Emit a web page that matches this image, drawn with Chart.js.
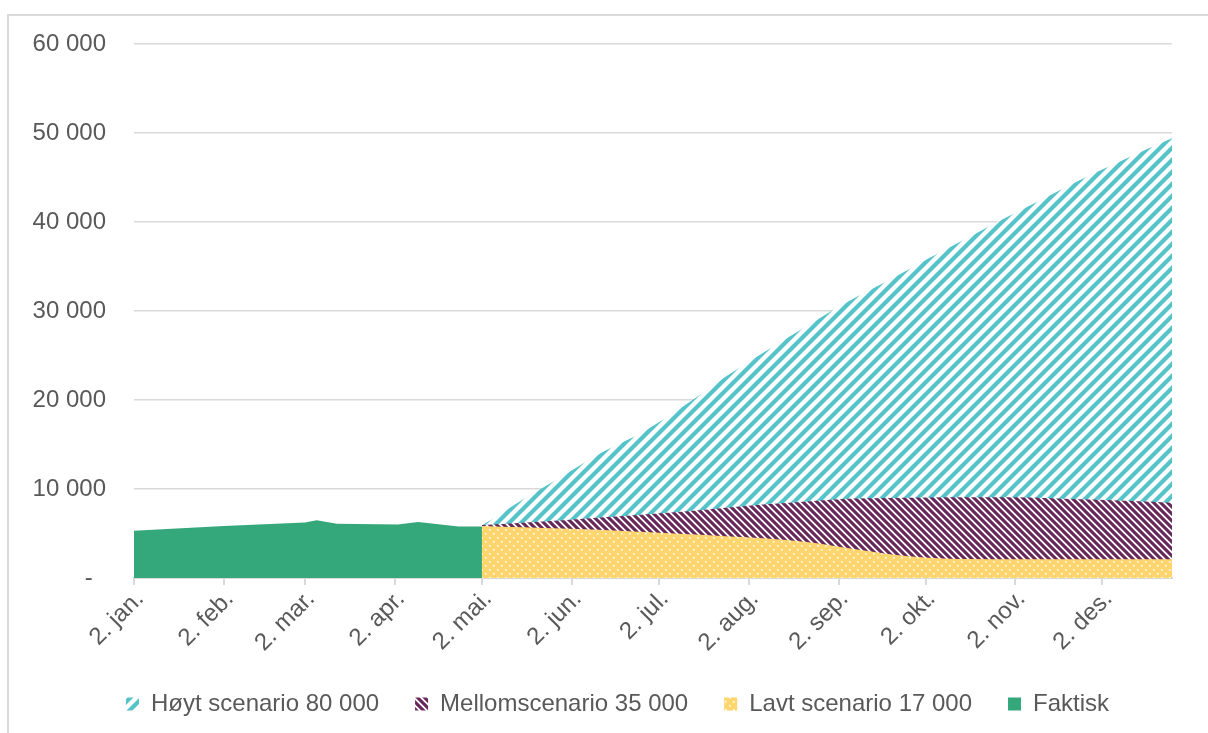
<!DOCTYPE html>
<html>
<head>
<meta charset="utf-8">
<script src="https://cdn.jsdelivr.net/npm/chart.js@4.4.1/dist/chart.umd.min.js"></script>
<style>
  html, body { margin: 0; padding: 0; background: #ffffff; overflow: hidden; }
  #frame { position: absolute; left: 7px; top: 14px; width: 1400px; height: 900px;
           border: 2px solid #d9d9d9; box-sizing: border-box; }
  #wrap { position: absolute; left: 0; top: 0; width: 1208px; height: 733px; }
</style>
</head>
<body>
<div id="frame"></div>
<div id="wrap"><canvas id="c" width="1208" height="733"></canvas></div>
<script>
// ---- Data (days counted from 2. jan.) ----
const tickDays   = [0, 31, 59, 90, 120, 151, 181, 212, 243, 273, 304, 334];
const tickLabels = ["2. jan.", "2. feb.", "2. mar.", "2. apr.", "2. mai.", "2. jun.",
                    "2. jul.", "2. aug.", "2. sep.", "2. okt.", "2. nov.", "2. des."];
const lastDay = 358;

const seriesNames = ["Høyt scenario 80 000", "Mellomscenario 35 000", "Lavt scenario 17 000", "Faktisk"];

const faktiskDays   = [0, 31, 59, 63, 70, 91, 98, 112, 120];
const faktiskValues = [5300, 5850, 6250, 6500, 6100, 6000, 6300, 5800, 5800];

const scenarioDays  = [120, 134, 148, 162, 176, 190, 204, 218, 232, 246, 260, 274, 288, 302, 316, 330, 344, 358];
const hoytValues    = [5900, 8800, 11500, 14200, 16500, 19400, 22600, 25500, 28300, 31000, 33400, 35900, 38300, 40700, 43000, 45300, 47400, 49400];
const mellomValues  = [5950, 6200, 6500, 6820, 7130, 7480, 7900, 8280, 8600, 8900, 8980, 9040, 9070, 9060, 8960, 8810, 8650, 8460];
const lavtValues    = [5850, 5700, 5550, 5390, 5170, 4950, 4700, 4450, 4050, 3380, 2710, 2280, 2130, 2100, 2100, 2100, 2100, 2100];

// ---- Patterns ----
function stripePattern(size, color, width, dir) {
  const c = document.createElement('canvas');
  c.width = size; c.height = size;
  const g = c.getContext('2d');
  g.fillStyle = '#ffffff'; g.fillRect(0, 0, size, size);
  g.strokeStyle = color; g.lineWidth = width; g.lineCap = 'square';
  g.beginPath();
  if (dir === 'up') {
    g.moveTo(0, size); g.lineTo(size, 0);
    g.moveTo(-size, size); g.lineTo(size, -size);
    g.moveTo(0, 2 * size); g.lineTo(2 * size, 0);
  } else {
    g.moveTo(0, 0); g.lineTo(size, size);
    g.moveTo(-size, 0); g.lineTo(size, 2 * size);
    g.moveTo(0, -size); g.lineTo(2 * size, size);
  }
  g.stroke();
  return g.createPattern(c, 'repeat');
}
function dotPattern(size, bg, dot, ds) {
  const c = document.createElement('canvas');
  c.width = size; c.height = size;
  const g = c.getContext('2d');
  g.fillStyle = bg; g.fillRect(0, 0, size, size);
  g.fillStyle = dot;
  g.fillRect(1, 1, ds, ds);
  g.fillRect(1 + size / 2, 1 + size / 2, ds, ds);
  return g.createPattern(c, 'repeat');
}
const tealPat   = stripePattern(12, '#55c3ca', 4.2, 'up');
const purplePat = stripePattern(7, '#67285a', 3.1, 'down');
const yellowPat = dotPattern(8, '#ffd56e', '#ffffff', 1.6);
const green = '#34a87a';

function pts(days, vals) { return days.map((d, i) => ({ x: d, y: vals[i] })); }
function fmt(v) { return v === 0 ? '-  ' : String(v).replace(/\B(?=(\d{3})+(?!\d))/g, ' '); }

Chart.defaults.font.family = "'Liberation Sans', Arial, sans-serif";
Chart.defaults.font.size = 24;
Chart.defaults.color = '#595959';

const shiftLegend = {
  id: 'shiftLegend',
  beforeDraw(chart) { if (chart.legend) { chart.legend.left = 63; } }
};

new Chart(document.getElementById('c'), {
  type: 'line',
  data: {
    datasets: [
      { label: seriesNames[0], data: pts(scenarioDays, hoytValues), backgroundColor: tealPat,
        fill: 'origin', borderWidth: 0, pointRadius: 0, order: 3, cubicInterpolationMode: 'monotone' },
      { label: seriesNames[1], data: pts(scenarioDays, mellomValues), backgroundColor: purplePat,
        fill: 'origin', borderWidth: 0, pointRadius: 0, order: 2, cubicInterpolationMode: 'monotone' },
      { label: seriesNames[2], data: pts(scenarioDays, lavtValues), backgroundColor: yellowPat,
        fill: 'origin', borderWidth: 0, pointRadius: 0, order: 1, cubicInterpolationMode: 'monotone' },
      { label: seriesNames[3], data: pts(faktiskDays, faktiskValues), backgroundColor: green,
        fill: 'origin', borderWidth: 0, pointRadius: 0, order: 0 }
    ]
  },
  plugins: [shiftLegend],
  options: {
    responsive: false,
    animation: false,
    layout: { padding: { left: 0, right: 36, top: 44, bottom: 7 } },
    plugins: {
      tooltip: { enabled: false },
      legend: {
        position: 'bottom',
        reverse: true,
        labels: { boxWidth: 13, boxHeight: 13, padding: 36, color: '#595959',
                  font: { size: 24 } }
      }
    },
    scales: {
      x: {
        type: 'linear', min: 0, max: lastDay,
        afterBuildTicks: (s) => { s.ticks = tickDays.map(v => ({ value: v })); },
        afterFit: (s) => { s.height = 78; },
        ticks: { autoSkip: false, maxRotation: 45, minRotation: 45, padding: 0, labelOffset: 6,
                 callback: (v, i) => tickLabels[i] },
        grid: { drawOnChartArea: false, drawTicks: true, tickLength: 7, color: '#d9d9d9', lineWidth: 2 },
        border: { display: true, color: '#d9d9d9', width: 2 }
      },
      y: {
        min: 0, max: 60000,
        afterFit: (s) => { s.width = 134; },
        ticks: { stepSize: 10000, padding: 28, callback: (v) => fmt(v) },
        grid: { drawTicks: false, color: '#d9d9d9', lineWidth: 1.5 },
        border: { display: false }
      }
    }
  }
});
</script>
</body>
</html>
